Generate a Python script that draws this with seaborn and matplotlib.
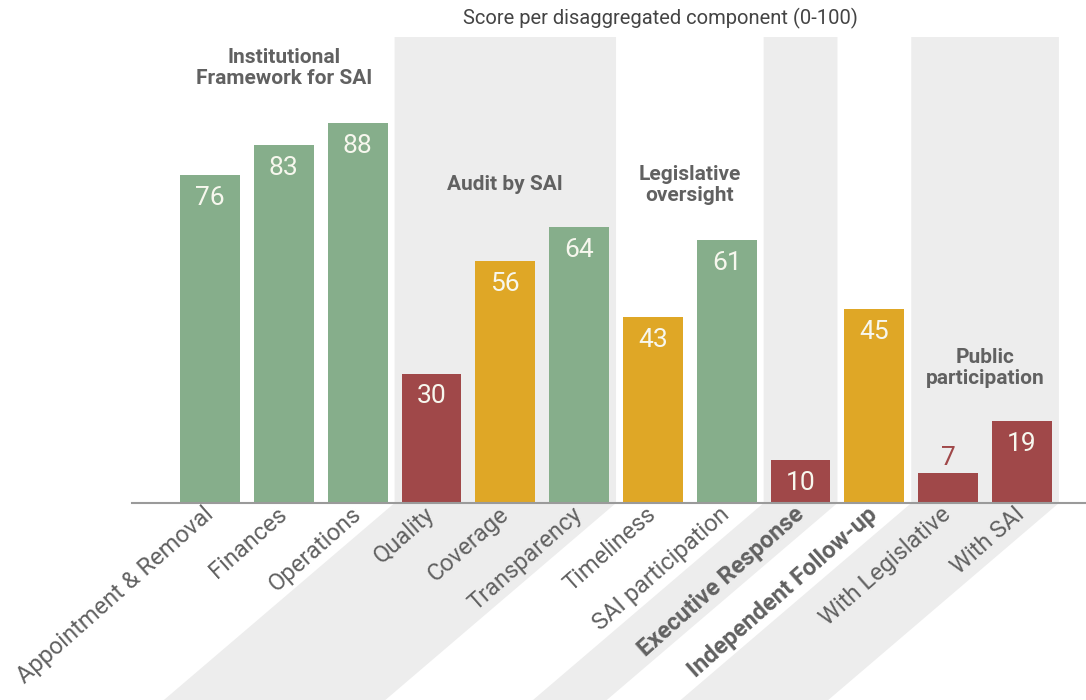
import numpy as np
import pandas as pd
import matplotlib
matplotlib.use("Agg")
import matplotlib.pyplot as plt
from matplotlib.patches import Polygon
import seaborn as sns

# ---- data ----
categories = ["Appointment & Removal", "Finances", "Operations", "Quality", "Coverage",
              "Transparency", "Timeliness", "SAI participation", "Executive Response",
              "Independent Follow-up", "With Legislative", "With SAI"]
scores = [76, 83, 88, 30, 56, 64, 43, 61, 10, 45, 7, 19]
rating = ["good", "good", "good", "weak", "fair", "good", "fair", "good", "weak", "fair", "weak", "weak"]
bold_labels = ["Executive Response", "Independent Follow-up"]
group_names = ["Institutional\nFramework for SAI", "Audit by SAI", "Legislative\noversight", "Public\nparticipation"]
group_centers = [1, 4, 6.5, 10.5]
group_label_y = [100.8, 73.7, 73.7, 31.3]
shaded_spans = [(2.5, 5.5), (7.5, 8.5), (9.5, 11.5)]
title = "Score per disaggregated component (0-100)"

palette = {"good": "#86AE8B", "fair": "#DFA726", "weak": "#A04849"}
band_color = "#EDEDED"
text_grey = "#616161"

df = pd.DataFrame({"category": categories, "score": scores, "rating": rating})

sns.set_theme(style="white")
plt.rcParams["font.family"] = ["Roboto", "DejaVu Sans"]

fig = plt.figure(figsize=(10.86, 7.0), dpi=100)
ax = fig.add_axes([132 / 1086, 197 / 700, (1086 - 132) / 1086, 466 / 700])

sns.barplot(data=df, x="category", y="score", hue="rating", palette=palette,
            dodge=False, width=0.81, legend=False, ax=ax, zorder=3, saturation=1,
            linewidth=0)

ax.set_xlim(-1.057, 11.867)
ax.set_ylim(0, 108)

# shaded bands, extended diagonally below the axis
px_per_x = 954 / (11.867 + 1.057)
px_per_y = 466 / 108
depth_px = 240
ang = np.deg2rad(40.5)
dyu = depth_px / px_per_y
dxu = depth_px / np.tan(ang) / px_per_x
for x0, x1 in shaded_spans:
    poly = Polygon([(x0, 108), (x1, 108), (x1, 0), (x1 - dxu, -dyu), (x0 - dxu, -dyu), (x0, 0)],
                   closed=True, facecolor=band_color, edgecolor="none", zorder=0, clip_on=False)
    ax.add_patch(poly)

# value labels
for i, v in enumerate(scores):
    if v < 9:
        ax.text(i, v + 3.4, str(v), ha="center", va="center", fontsize=19,
                color=palette[rating[i]], zorder=5)
    else:
        ax.text(i, v - 5.3, str(v), ha="center", va="center", fontsize=19,
                color="#F7F7EE", zorder=5)

# group labels
for name, gx, gy in zip(group_names, group_centers, group_label_y):
    ax.text(gx, gy, name, ha="center", va="center", fontsize=15, fontweight="bold",
            color=text_grey, linespacing=1.1, zorder=5)

# axes styling
for s in ["top", "right", "left"]:
    ax.spines[s].set_visible(False)
ax.spines["bottom"].set_color("#9A9A9A")
ax.spines["bottom"].set_linewidth(1.5)
ax.spines["bottom"].set_zorder(4)
ax.set_yticks([])
ax.set_xlabel("")
ax.set_ylabel("")
ax.set_xticks(range(len(categories)))
ax.set_xticklabels(categories, rotation=41.5, ha="right", va="center",
                   rotation_mode="anchor", fontsize=17, color=text_grey)
ax.tick_params(axis="x", length=0, pad=6)
for lab in ax.get_xticklabels():
    if lab.get_text() in bold_labels:
        lab.set_fontweight("bold")
ax.patch.set_alpha(0)

fig.text(660 / 1086, 1 - 18 / 700, title, ha="center", va="center", fontsize=14.5, color="#444444")

fig.savefig("out.png", dpi=100, facecolor="white")
